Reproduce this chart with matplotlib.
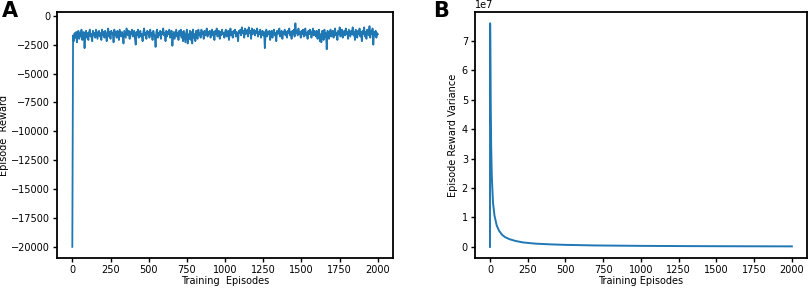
import numpy as np
import matplotlib
matplotlib.use('Agg')
import matplotlib.pyplot as plt

# panel A: episode reward, one value every 5 episodes
episodes = np.arange(0, 2001, 5)
rewards = [
    -20000, -1700, -2200, -1500, -1900, -1400, -2300, -1600, -1300, -2000, -1500, -1800, -1200, -2100, -1600, -1400, -2800, -1700, -1300, -1900,
    -1500, -2100, -1400, -1200, -1800, -1600, -2200, -1300, -1700, -1500, -1900, -1200, -1600, -2000, -1400, -1300, -1800, -1500, -2100, -1200,
    -1700, -1400, -1900, -1300, -1600, -2200, -1500, -1100, -1800, -1400, -2000, -1300, -1600, -1500, -2300, -1200, -1700, -1400, -1900, -1300,
    -1600, -2100, -1200, -1500, -1800, -1400, -1700, -2400, -1300, -1600, -1900, -1100, -1500, -1700, -1300, -2000, -1400, -1600, -1200, -1800,
    -1500, -1300, -2000, -2500, -1400, -1700, -1200, -1900, -1500, -1300, -1800, -1600, -2200, -1400, -1100, -1700, -1500, -2000, -1300, -1600,
    -1400, -1900, -1200, -1700, -1500, -2100, -1300, -1600, -1800, -2700, -1400, -1200, -1900, -1500, -1700, -1300, -2000, -1400, -1600, -1100,
    -1700, -1500, -2200, -1300, -1800, -1400, -1600, -1200, -1900, -1500, -1300, -2600, -1700, -1400, -2000, -1600, -1200, -1800, -1500, -2100,
    -1300, -1700, -1200, -1900, -1400, -2200, -1300, -1800, -2300, -1500, -1200, -2400, -1600, -2000, -1300, -2100, -1400, -2400, -1200, -1900,
    -1600, -2200, -1300, -1800, -2000, -1200, -1700, -1500, -1900, -1200, -1600, -1400, -2000, -1300, -1700, -1500, -1100, -1800, -1400, -1600,
    -1300, -1900, -1500, -1200, -1700, -1400, -2100, -1300, -1600, -1100, -1800, -1500, -1300, -2000, -1400, -1700, -1200, -1600, -1500, -1900,
    -1400, -1200, -1800, -1500, -1300, -2100, -1600, -1100, -1700, -1400, -1900, -1300, -1500, -1200, -1800, -1400, -1600, -2200, -1300, -1500,
    -1200, -1700, -1000, -1500, -1300, -1900, -1100, -1600, -1400, -1200, -1800, -1000, -1500, -1300, -2000, -1100, -1600, -1400, -1200, -1700,
    -1300, -1500, -1100, -1800, -1400, -1600, -1200, -1900, -1500, -1300, -1700, -1400, -2800, -1500, -1200, -1800, -1400, -1600, -1300, -2100,
    -1500, -1300, -1900, -1400, -1200, -1700, -1500, -2200, -1300, -1600, -1400, -1100, -1800, -1500, -1300, -2000, -1400, -1600, -1200, -1700,
    -1400, -1900, -1300, -1500, -1100, -1700, -1400, -2000, -1300, -1600, -1200, -1800, -650, -1500, -1300, -1700, -1100, -1600, -1400, -1900,
    -1300, -1600, -1200, -1800, -1400, -1100, -1700, -1500, -2000, -1300, -1600, -1200, -1400, -1900, -1500, -1100, -1700, -1300, -1600, -1800,
    -1300, -2000, -1500, -1200, -2200, -1600, -2300, -1300, -1400, -2100, -1200, -1800, -1500, -2900, -1300, -1400, -2000, -1500, -1200, -1800,
    -1500, -1300, -1900, -1400, -1100, -1700, -1500, -2100, -1300, -1600, -1000, -1800, -1400, -1200, -1900, -1500, -1300, -1700, -1100, -1600,
    -1400, -2000, -1200, -1500, -1800, -1300, -1600, -1000, -1700, -1400, -2100, -1200, -1500, -1900, -1300, -1600, -1100, -1800, -1400, -2200,
    -1300, -1600, -1000, -1800, -1400, -2000, -1200, -1500, -1700, -900, -1900, -1300, -1600, -1100, -2500, -1400, -1700, -1300, -1900, -1500,
    -1600,
]

# panel B: variance of episode reward
var_episodes = [0, 1, 2, 3, 5, 8, 12, 20, 30, 45, 60, 80, 100, 130, 170, 220,
                300, 400, 500, 700, 1000, 1300, 1600, 2000]
variance = [0, 7.6e7, 7.0e7, 6.2e7, 4.7e7, 3.4e7, 2.4e7, 1.5e7, 1.06e7, 0.72e7,
            0.55e7, 0.41e7, 0.33e7, 0.26e7, 0.20e7, 0.15e7, 0.11e7, 0.085e7,
            0.068e7, 0.048e7, 0.034e7, 0.026e7, 0.021e7, 0.017e7]

plt.rcParams['font.size'] = 7
plt.rcParams['axes.linewidth'] = 1.3

fig = plt.figure(figsize=(8.09, 2.88), dpi=100)
ax1 = fig.add_axes([0.0705, 0.104, 0.4155, 0.854])
ax2 = fig.add_axes([0.587, 0.104, 0.4105, 0.854])

ax1.plot(episodes, rewards, color='#1f77b4', linewidth=1.3)
ax1.set_xlabel('Training  Episodes', labelpad=1)
ax1.set_ylabel('Episode  Reward')
ax1.yaxis.set_label_coords(-0.142, 0.5)
ax1.set_xticks([0, 250, 500, 750, 1000, 1250, 1500, 1750, 2000])

ax2.plot(var_episodes, variance, color='#1f77b4', linewidth=1.4)
ax2.set_xlabel('Training Episodes', labelpad=1)
ax2.set_ylabel('Episode Reward Variance')
ax2.yaxis.set_label_coords(-0.05, 0.5)
ax2.set_xticks([0, 250, 500, 750, 1000, 1250, 1500, 1750, 2000])

for ax in (ax1, ax2):
    ax.tick_params(length=3, width=1, pad=2)

fig.text(0.002, 0.995, 'A', fontsize=15, fontweight='bold', va='top', ha='left')
fig.text(0.535, 0.995, 'B', fontsize=15, fontweight='bold', va='top', ha='left')

fig.savefig('out.png', dpi=100)
